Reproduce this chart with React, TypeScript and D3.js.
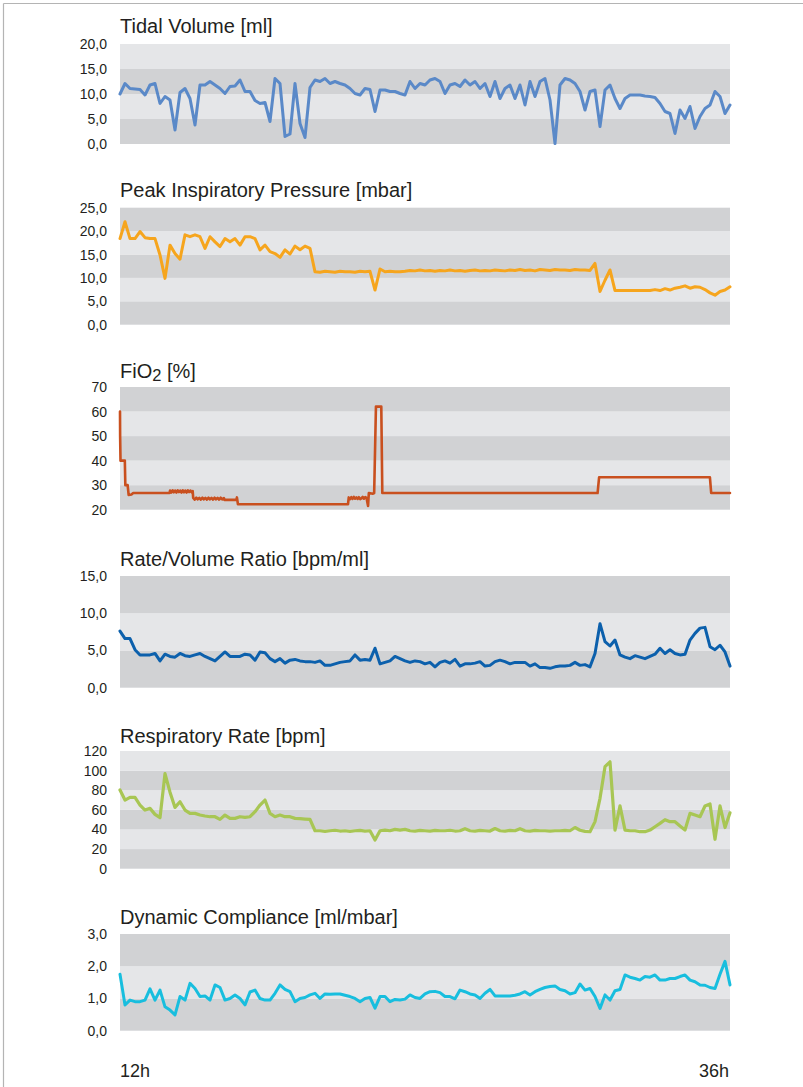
import React from 'react';
import * as d3 from 'd3';

// ---------- DATA ----------
const timeStartH = 12;
const timeEndH = 36;
const timeLabels = ['12h', '36h'];

// Uniformly sampled readings (sample i at 12h + i*24/122 h)
const tidalVolume = [
  10.0, 12.1, 11.1, 11.0, 10.9, 9.8, 11.8, 12.1, 8.1, 9.5,
  8.8, 2.8, 10.3, 11.1, 9.1, 3.8, 11.8, 11.8, 12.5, 11.8,
  11.1, 10.1, 11.5, 11.6, 12.8, 10.5, 10.5, 8.7, 8.1, 8.3,
  4.5, 13.1, 12.1, 1.5, 2.0, 12.1, 4.1, 1.3, 11.3, 12.8,
  12.5, 13.1, 12.1, 12.5, 12.1, 11.8, 11.1, 10.1, 9.8, 11.1,
  10.9, 6.5, 10.8, 10.8, 10.5, 10.5,
  10.1, 9.8, 12.5, 11.1, 12.1, 11.8, 12.8, 13.1, 12.5, 10.1,
  11.8, 12.1, 11.5, 12.8, 11.8, 12.5, 11.1, 12.1, 9.5, 12.5,
  9.1, 11.1, 11.8, 9.1, 11.8, 7.8, 12.5, 9.5, 12.5, 13.1,
  8.8, 0.1, 11.8, 13.1, 12.8, 12.1, 10.5, 6.8, 10.5, 10.8,
  3.5, 10.8, 11.8, 9.1, 7.1, 9.1, 9.8, 9.8, 9.8, 9.6,
  9.5, 9.3, 8.1, 6.5, 6.1, 2.1, 6.8, 5.1, 7.5, 3.1,
  5.5, 7.1, 7.8, 10.5, 9.5, 6.1, 7.8,
];

const peakPressure = [
  18.4, 22.0, 18.4, 18.4, 19.9, 18.6, 18.4, 18.4, 14.9, 9.9,
  17.0, 15.2, 14.0, 19.2, 18.8, 19.2, 18.8, 16.3, 18.8, 17.7,
  16.7, 18.4, 17.7, 18.4, 17.0, 18.8, 18.8, 18.4, 16.0, 17.0,
  15.6, 15.2, 14.4, 16.0, 15.1, 16.8, 16.0, 16.8, 16.3, 11.3,
  11.2, 11.4, 11.3, 11.2, 11.4, 11.3, 11.3, 11.2, 11.4, 11.3,
  11.4, 7.4, 11.9, 11.3, 11.4, 11.3,
  11.3, 11.4, 11.6, 11.5, 11.7, 11.5, 11.6, 11.4, 11.6, 11.5,
  11.7, 11.5, 11.6, 11.4, 11.6, 11.7, 11.5, 11.6, 11.5, 11.7,
  11.6, 11.5, 11.7, 11.6, 11.8, 11.6, 11.7, 11.5, 11.8, 11.7,
  11.6, 11.8, 11.7, 11.7, 11.6, 11.8, 11.7, 11.7, 11.6, 13.1,
  7.1, 9.5, 11.7, 7.3, 7.3, 7.3, 7.3, 7.3, 7.3, 7.3,
  7.3, 7.5, 7.3, 7.7, 7.4, 7.8, 8.0, 8.3, 7.8, 8.1,
  8.0, 7.5, 6.8, 6.3, 7.1, 7.4, 8.1,
];

// FiO2 settings as [hour, %] breakpoints
const fio2Points: [number, number][] = [
  [12.0, 60], [12.005, 50], [12.02, 40], [12.19, 40], [12.21, 30], [12.3, 30],
  [12.34, 26], [12.45, 26.2], [12.52, 26.8], [13.95, 26.8],
  [13.97, 27.8], [14.02, 27.0], [14.07, 27.9], [14.12, 27.1], [14.17, 27.8],
  [14.22, 27.0], [14.27, 27.9], [14.32, 27.2], [14.37, 27.8], [14.42, 27.0],
  [14.47, 27.9], [14.52, 27.1], [14.57, 27.8], [14.62, 27.0], [14.67, 27.9],
  [14.72, 27.2], [14.77, 27.8], [14.82, 27.1], [14.86, 27.6],
  [14.88, 24.8], [14.94, 24.1], [15.0, 24.9], [15.06, 24.2], [15.12, 24.8],
  [15.18, 24.1], [15.24, 24.9], [15.3, 24.2], [15.36, 24.8], [15.42, 24.1],
  [15.48, 24.9], [15.54, 24.2], [15.6, 24.8], [15.66, 24.1], [15.72, 24.9],
  [15.78, 24.2], [15.84, 24.8], [15.9, 24.1], [15.96, 24.9], [16.02, 24.2],
  [16.09, 24.7], [16.11, 24.0], [16.58, 24.0], [16.6, 25.0],
  [16.64, 22.2], [20.97, 22.2],
  [21.0, 25.0], [21.05, 24.3], [21.1, 25.1], [21.15, 24.4], [21.2, 25.2],
  [21.25, 24.5], [21.3, 25.0], [21.35, 24.4], [21.4, 25.1], [21.45, 24.3],
  [21.5, 24.6], [21.55, 25.2], [21.6, 24.5], [21.65, 25.1], [21.7, 24.8],
  [21.76, 21.5], [21.79, 26.8], [21.95, 26.5], [22.0, 26.8], [22.07, 62],
  [22.28, 62], [22.32, 26.8], [30.79, 26.8], [30.85, 33.2], [35.21, 33.2],
  [35.26, 26.8], [36.0, 26.8],
];

const rateVolumeRatio = [
  7.6, 6.6, 6.6, 5.1, 4.4, 4.4, 4.4, 4.6, 3.6, 4.5,
  4.2, 4.1, 4.6, 4.3, 4.2, 4.4, 4.6, 4.2, 3.9, 3.6,
  4.2, 4.8, 4.2, 4.2, 4.2, 4.5, 4.4, 3.7, 4.8, 4.7,
  3.9, 3.5, 3.9, 3.3, 3.7, 3.8, 3.6, 3.5, 3.5, 3.4,
  3.6, 3.0, 3.0, 3.2, 3.4, 3.5, 3.6, 4.4, 3.7, 3.8,
  3.7, 5.3, 3.2, 3.4, 3.6, 4.2,
  3.9, 3.6, 3.4, 3.6, 3.5, 3.2, 3.4, 2.8, 3.4, 3.6,
  3.3, 3.8, 2.9, 3.2, 3.2, 3.3, 3.5, 2.9, 3.0, 3.5,
  3.7, 3.5, 3.2, 3.4, 3.4, 3.4, 2.9, 3.2, 2.7, 2.7,
  2.6, 2.8, 2.9, 2.9, 3.0, 3.4, 3.0, 3.1, 2.8, 4.6,
  8.6, 6.2, 5.6, 6.4, 4.4, 4.1, 3.9, 4.3, 4.1, 3.9,
  4.2, 4.5, 5.3, 4.6, 5.1, 4.6, 4.4, 4.5, 6.4, 7.3,
  8.0, 8.1, 5.5, 5.1, 5.7, 4.8, 2.9,
];

const respiratoryRate = [
  80.2, 70.0, 72.7, 72.7, 64.9, 59.8, 61.5, 55.4, 52.0, 97.0,
  78.0, 62.5, 68.3, 59.8, 56.4, 56.4, 54.7, 53.7, 53.0, 53.0,
  50.3, 54.7, 51.3, 51.3, 53.0, 52.3, 53.0, 58.1, 64.9, 70.0,
  56.4, 53.0, 54.7, 53.0, 53.0, 51.3, 51.0, 50.6, 50.3, 38.7,
  38.7, 38.0, 38.7, 39.2, 38.4, 38.7, 38.0, 38.7, 39.0, 38.4,
  38.7, 29.2, 38.7, 39.4, 38.7, 40.1,
  39.4, 40.1, 38.7, 38.4, 39.0, 38.7, 38.4, 39.0, 38.7, 38.7,
  39.2, 38.4, 38.7, 40.8, 38.7, 38.4, 39.0, 38.7, 38.4, 41.0,
  38.7, 38.4, 39.0, 38.7, 40.8, 38.7, 38.4, 39.0, 38.7, 38.7,
  38.4, 38.7, 38.7, 39.0, 38.7, 42.0, 39.2, 38.0, 37.7, 48.0,
  71.7, 104.0, 109.0, 39.4, 64.0, 39.4, 38.7, 38.7, 37.7, 37.7,
  39.4, 42.8, 46.2, 50.0, 47.9, 47.9, 43.5, 39.4, 56.4, 54.7,
  53.0, 63.9, 66.0, 30.0, 64.0, 42.0, 57.0,
];

const dynamicCompliance = [
  1.75, 0.8, 0.95, 0.9, 0.9, 0.95, 1.3, 0.95, 1.26, 0.74,
  0.64, 0.49, 1.06, 0.95, 1.47, 1.31, 1.06, 1.08, 0.95, 1.42,
  1.34, 0.95, 1.0, 1.11, 1.0, 0.8, 1.2, 1.26, 1.0, 0.95,
  0.95, 1.16, 1.42, 1.28, 1.21, 0.9, 1.0, 1.03, 1.11, 1.16,
  1.0, 1.14, 1.13, 1.14, 1.14, 1.1, 1.06, 1.0, 0.9, 1.0,
  1.03, 0.7, 1.06, 1.06, 0.9, 0.97,
  0.95, 0.98, 1.11, 1.03, 1.0, 1.14, 1.21, 1.22, 1.18, 1.06,
  1.06, 0.99, 1.26, 1.21, 1.14, 1.11, 1.0, 1.16, 1.28, 1.08,
  1.08, 1.08, 1.08, 1.1, 1.14, 1.21, 1.11, 1.21, 1.28, 1.34,
  1.37, 1.39, 1.28, 1.24, 1.14, 1.18, 1.45, 1.26, 1.31, 1.06,
  0.69, 1.11, 0.95, 1.24, 1.28, 1.73, 1.66, 1.62, 1.57, 1.68,
  1.66, 1.73, 1.57, 1.57, 1.62, 1.62, 1.68, 1.73, 1.57, 1.52,
  1.42, 1.41, 1.34, 1.31, 1.75, 2.15, 1.42,
];

const tvTicks = [0, 5, 10, 15, 20];
const pipTicks = [0, 5, 10, 15, 20, 25];
const fio2Ticks = [20, 30, 40, 50, 60, 70];
const rvTicks = [0, 5, 10, 15];
const rrTicks = [0, 20, 40, 60, 80, 100, 120];
const dcTicks = [0, 1, 2, 3];

// ---------- LAYOUT ----------
const W = 803;
const H = 1087;
const X0 = 120;
const X1 = 730;
const DARK = '#d1d2d4';
const LIGHT = '#e5e6e8';
const TEXT = '#231f20';
const FONT = '"Liberation Sans", Arial, Helvetica, sans-serif';

function toSeries(values: number[]): [number, number][] {
  const n = values.length;
  return values.map((v, i) => [timeStartH + (i * (timeEndH - timeStartH)) / (n - 1), v]);
}

type PanelDef = {
  key: string;
  title: React.ReactNode;
  ticks: number[];
  decimals: number;
  color: string;
  width: number;
  top: number;
  bottom: number;
  titleY: number;
  points: [number, number][];
};

const panels: PanelDef[] = [
  { key: 'tv', title: 'Tidal Volume [ml]', ticks: tvTicks, decimals: 1, color: '#5a89c8', width: 3.0, top: 44, bottom: 144, titleY: 33, points: toSeries(tidalVolume) },
  { key: 'pip', title: 'Peak Inspiratory Pressure [mbar]', ticks: pipTicks, decimals: 1, color: '#f6a51d', width: 3.0, top: 207.7, bottom: 324.7, titleY: 196.5, points: toSeries(peakPressure) },
  {
    key: 'fio2',
    title: (
      <>
        FiO<tspan dy={3} fontSize={16.5}>2</tspan><tspan dy={-3}> [%]</tspan>
      </>
    ),
    ticks: fio2Ticks, decimals: 0, color: '#c9501f', width: 2.6, top: 387, bottom: 509.7, titleY: 377.5, points: fio2Points,
  },
  { key: 'rv', title: 'Rate/Volume Ratio [bpm/ml]', ticks: rvTicks, decimals: 1, color: '#0c60ac', width: 3.0, top: 576, bottom: 687.7, titleY: 565.5, points: toSeries(rateVolumeRatio) },
  { key: 'rr', title: 'Respiratory Rate [bpm]', ticks: rrTicks, decimals: 0, color: '#a8c654', width: 3.2, top: 751, bottom: 868.7, titleY: 742.5, points: toSeries(respiratoryRate) },
  { key: 'dc', title: 'Dynamic Compliance [ml/mbar]', ticks: dcTicks, decimals: 1, color: '#18bede', width: 3.0, top: 934, bottom: 1030.7, titleY: 924, points: toSeries(dynamicCompliance) },
];

const fmt = (v: number, dec: number) => d3.format(dec ? '.1f' : 'd')(v).replace('.', ',');

function Panel({ p, x }: { p: PanelDef; x: d3.ScaleLinear<number, number> }) {
  const lo = p.ticks[0];
  const hi = p.ticks[p.ticks.length - 1];
  const y = d3.scaleLinear().domain([lo, hi]).range([p.bottom, p.top]);
  const line = d3
    .line<[number, number]>()
    .x((d) => x(d[0]))
    .y((d) => y(d[1]))
    .curve(d3.curveLinear);
  const bands = p.ticks.slice(0, -1).map((t, i) => ({ a: t, b: p.ticks[i + 1], dark: i % 2 === 0 }));
  return (
    <g>
      <text x={X0} y={p.titleY} fontSize={20} fill={TEXT} fontFamily={FONT}>
        {p.title}
      </text>
      {bands.map((b) => (
        <rect
          key={b.a}
          x={X0}
          width={X1 - X0}
          y={y(b.b)}
          height={y(b.a) - y(b.b)}
          fill={b.dark ? DARK : LIGHT}
        />
      ))}
      {p.ticks.map((t) => (
        <text
          key={t}
          x={107}
          y={y(t)}
          textAnchor="end"
          dominantBaseline="central"
          fontSize={14}
          fill={TEXT}
          fontFamily={FONT}
        >
          {fmt(t, p.decimals)}
        </text>
      ))}
      <path
        d={line(p.points) || ''}
        fill="none"
        stroke={p.color}
        strokeWidth={p.width}
        strokeLinejoin="round"
        strokeLinecap="round"
      />
    </g>
  );
}

export default function App() {
  const x = d3.scaleLinear().domain([timeStartH, timeEndH]).range([X0, X1]);
  return (
    <svg
      width={W}
      height={H}
      viewBox={`0 0 ${W} ${H}`}
      style={{ position: 'absolute', left: 0, top: 0, background: '#fff' }}
    >
      <rect x={0} y={0} width={W} height={H} fill="#fff" />
      <line x1={3.5} y1={3.5} x2={W} y2={3.5} stroke="#b4b4b4" strokeWidth={1.2} />
      <line x1={3.5} y1={3.5} x2={3.5} y2={H} stroke="#b4b4b4" strokeWidth={1.2} />
      {panels.map((p) => (
        <Panel key={p.key} p={p} x={x} />
      ))}
      <text x={x(timeStartH)} y={1077} fontSize={18} fill={TEXT} fontFamily={FONT}>
        {timeLabels[0]}
      </text>
      <text x={x(timeEndH) - 1} y={1077} fontSize={18} textAnchor="end" fill={TEXT} fontFamily={FONT}>
        {timeLabels[1]}
      </text>
    </svg>
  );
}
